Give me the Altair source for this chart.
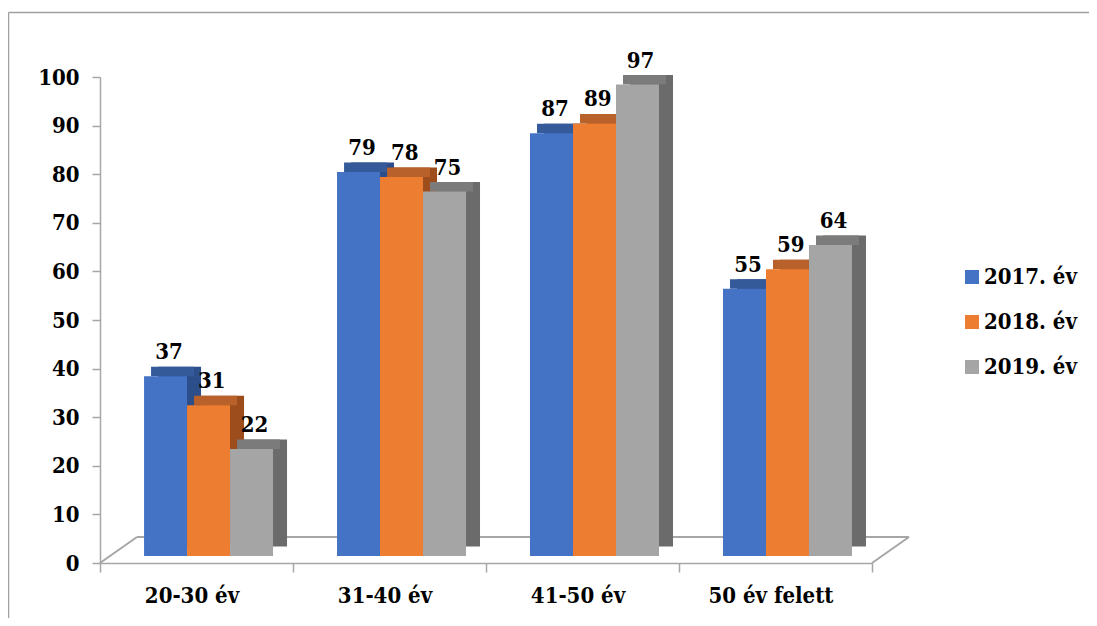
import altair as alt
import pandas as pd

categories = ["20-30 év", "31-40 év", "41-50 év", "50 év felett"]
series = ["2017. év", "2018. év", "2019. év"]
v2017 = [37, 79, 87, 55]
v2018 = [31, 78, 89, 59]
v2019 = [22, 75, 97, 64]
y_ticks = [0, 10, 20, 30, 40, 50, 60, 70, 80, 90, 100]

front_colors = ["#4472C4", "#ED7D31", "#A5A5A5"]
top_colors = ["#345A99", "#B8612A", "#7B7B7B"]
side_colors = ["#2C4E8A", "#9C4D1B", "#6B6B6B"]

rows = []
for s, vals in zip(series, [v2017, v2018, v2019]):
    for c, v in zip(categories, vals):
        rows.append({"cat": c, "series": s, "value": v})
df = pd.DataFrame(rows)

W, H = 772, 486
FONT = "DejaVu Serif Condensed, DejaVu Serif"
FS = 22
GRAY = "#A6A6A6"

yscale = alt.Scale(domain=[0, 100], nice=False)
yaxis = alt.Axis(title=None, values=y_ticks, grid=False, tickSize=8,
                 labelPadding=13, domainColor=GRAY, tickColor=GRAY,
                 domainWidth=1.5, tickWidth=1.5)
xaxis = alt.Axis(title=None, labelAngle=0, tickBand="extent", tickSize=9,
                 labelPadding=13, labelOffset=-5, domainColor=GRAY,
                 tickColor=GRAY, domainWidth=1.5, tickWidth=1.5)


def xs(align):
    return alt.Scale(domain=categories, paddingInner=0.3316, paddingOuter=0.166, align=align)


def xo(po=0.0, align=0.5):
    sc = alt.Scale(domain=series, paddingInner=0, paddingOuter=po, align=align)
    return alt.XOffset("series:N", sort=series, scale=sc)


def col(rng, legend=None):
    if legend is None:
        return alt.Color("series:N", scale=alt.Scale(domain=series, range=rng), legend=None)
    return alt.Color("series:N", scale=alt.Scale(domain=series, range=rng), legend=legend)


axis_layer = alt.Chart(df).mark_point(opacity=0).encode(
    x=alt.X("cat:N", sort=categories, scale=alt.Scale(domain=categories, paddingInner=0, paddingOuter=0), axis=xaxis),
    y=alt.Y("value:Q", scale=yscale, axis=yaxis),
)

back = alt.Chart(df).mark_bar(yOffset=-16.5, y2Offset=-16.5).encode(
    x=alt.X("cat:N", sort=categories, scale=xs(0.906), axis=None),
    xOffset=xo(),
    y=alt.Y("value:Q", scale=yscale, axis=yaxis),
    color=col(side_colors),
)
topface = alt.Chart(df).mark_bar(yOffset=-16.5, y2Offset=-7).encode(
    x=alt.X("cat:N", sort=categories, scale=xs(0.797), axis=None),
    xOffset=xo(),
    y=alt.Y("value:Q", scale=yscale, axis=yaxis),
    y2=alt.Y2("value:Q"),
    color=col(top_colors),
)
legend = alt.Legend(title=None, orient="none", legendX=861, legendY=189,
                    symbolType="square", symbolSize=196, symbolStrokeWidth=0,
                    labelFont=FONT, labelFontSize=FS, labelFontWeight="bold",
                    labelColor="black", rowPadding=23, labelOffset=1, padding=0)
front = alt.Chart(df).mark_bar(yOffset=-7, y2Offset=-7).encode(
    x=alt.X("cat:N", sort=categories, scale=xs(0.6875), axis=None),
    xOffset=xo(),
    y=alt.Y("value:Q", scale=yscale, axis=yaxis),
    color=col(front_colors, legend),
)
labels = alt.Chart(df).mark_text(font=FONT, fontSize=FS, fontWeight="bold", color="black",
                                 dx=25, dy=-24, baseline="alphabetic").encode(
    x=alt.X("cat:N", sort=categories, scale=xs(0.6875), axis=None),
    xOffset=xo(po=0.51, align=0),
    y=alt.Y("value:Q", scale=yscale, axis=yaxis),
    text="value:Q",
)

one = pd.DataFrame({"k": [0]})
floor_back = alt.Chart(one).mark_rule(color=GRAY, strokeWidth=2).encode(
    x=alt.value(37), x2=alt.value(W + 37), y=alt.value(H - 26))
floor_left = alt.Chart(one).mark_rule(color=GRAY, strokeWidth=2).encode(
    x=alt.value(0), x2=alt.value(37), y=alt.value(H), y2=alt.value(H - 26))
floor_right = alt.Chart(one).mark_rule(color=GRAY, strokeWidth=2).encode(
    x=alt.value(W), x2=alt.value(W + 37), y=alt.value(H), y2=alt.value(H - 26))
border_left = alt.Chart(one).mark_rule(color="#A0A0A0", strokeWidth=1.5).encode(
    x=alt.value(-91.5), y=alt.value(-64.5), y2=alt.value(560))
border_top = alt.Chart(one).mark_rule(color="#A0A0A0", strokeWidth=1.5).encode(
    x=alt.value(-91.5), x2=alt.value(1000), y=alt.value(-64.5))

chart = alt.layer(
    border_left, border_top, floor_back, floor_left, floor_right,
    axis_layer, back, topface, front, labels
).resolve_scale(x="independent", xOffset="independent", color="independent").properties(
    width=W, height=H,
    autosize=alt.AutoSizeParams(type="none"),
    padding={"left": 92, "top": 69, "right": 217, "bottom": 55},
    background="white",
).configure_view(strokeWidth=0).configure_axis(
    labelFont=FONT, labelFontSize=FS, labelFontWeight="bold", labelColor="black"
)

chart.save("out.html", embed_options={"renderer": "svg", "actions": False})
